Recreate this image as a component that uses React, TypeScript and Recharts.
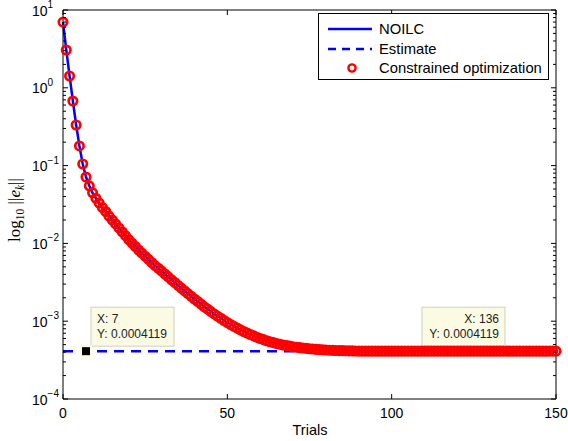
import React from "react";
import { LineChart, Line, XAxis, YAxis, ReferenceLine, ReferenceDot, Legend } from "recharts";

// ||e_k||, one value per trial 0..150
const ERROR_NORM = [
  7.0, 3.06, 1.42, 0.676, 0.333, 0.179, 0.105, 0.0714, 0.055, 0.0447,
  0.038, 0.0331, 0.0288, 0.0257, 0.0224, 0.02, 0.0178, 0.0158, 0.0141, 0.0126,
  0.0112, 0.0101, 0.00912, 0.00822, 0.0075, 0.00684, 0.00624, 0.00569, 0.00519, 0.00479,
  0.0044, 0.00404, 0.00371, 0.00341, 0.00314, 0.00289, 0.00266, 0.00245, 0.00226, 0.00209,
  0.00193, 0.00179, 0.00166, 0.00153, 0.00143, 0.00133, 0.00124, 0.00116, 0.00109, 0.00102,
  0.000962, 0.000908, 0.000859, 0.000815, 0.000774, 0.000738, 0.000705, 0.000675, 0.000647, 0.000622,
  0.0006, 0.000579, 0.000561, 0.000545, 0.00053, 0.000516, 0.000505, 0.000494, 0.000485, 0.000478,
  0.00047, 0.000463, 0.000457, 0.000452, 0.000447, 0.000443, 0.000439, 0.000435, 0.000432, 0.000429,
  0.000426, 0.000424, 0.000422, 0.00042, 0.000419, 0.000418, 0.000417, 0.000416, 0.000415, 0.000414,
  0.000413, 0.0004119, 0.0004119, 0.0004119, 0.0004119, 0.0004119, 0.0004119, 0.0004119, 0.0004119, 0.0004119,
  0.0004119, 0.0004119, 0.0004119, 0.0004119, 0.0004119, 0.0004119, 0.0004119, 0.0004119, 0.0004119, 0.0004119,
  0.0004119, 0.0004119, 0.0004119, 0.0004119, 0.0004119, 0.0004119, 0.0004119, 0.0004119, 0.0004119, 0.0004119,
  0.0004119, 0.0004119, 0.0004119, 0.0004119, 0.0004119, 0.0004119, 0.0004119, 0.0004119, 0.0004119, 0.0004119,
  0.0004119, 0.0004119, 0.0004119, 0.0004119, 0.0004119, 0.0004119, 0.0004119, 0.0004119, 0.0004119, 0.0004119,
  0.0004119, 0.0004119, 0.0004119, 0.0004119, 0.0004119, 0.0004119, 0.0004119, 0.0004119, 0.0004119, 0.0004119,
  0.0004119,
];
// constrained optimization lands on the same values as NOILC
const CONSTRAINED = ERROR_NORM;
const ESTIMATE = 0.0004119;

const X_TICKS = [0, 50, 100, 150];
const Y_MAJOR = [1e-4, 1e-3, 1e-2, 1e-1, 1, 10];
const Y_EXP = ["−4", "−3", "−2", "−1", "0", "1"];
const Y_MINOR = Y_MAJOR.slice(0, -1).flatMap((d) => [2, 3, 4, 5, 6, 7, 8, 9].map((m) => m * d));

const TIP_TRIALS = [7, 136];

const data = ERROR_NORM.map((v, i) => ({
  trial: i,
  noilc: v,
  estimate: ESTIMATE,
  constrained: CONSTRAINED[i],
}));

const PLOT = { left: 63, right: 556, top: 10, bottom: 399 };
const SANS = "'Liberation Sans', Arial, sans-serif";

function YTick(props: any) {
  const { y, payload } = props;
  const idx = Y_MAJOR.indexOf(payload.value);
  const len = idx >= 0 ? 5 : 3;
  return (
    <g>
      <line x1={PLOT.left} x2={PLOT.left + len} y1={y} y2={y} stroke="#000" />
      <line x1={PLOT.right} x2={PLOT.right - len} y1={y} y2={y} stroke="#000" />
      {idx >= 0 && (
        <text x={32} y={y + 5.5} fontSize={14} fontFamily={SANS} fill="#000">
          10
          <tspan dy={-7.5} fontSize={10}>
            {Y_EXP[idx]}
          </tspan>
        </text>
      )}
    </g>
  );
}

function XTick(props: any) {
  const { x, payload } = props;
  return (
    <g>
      <line x1={x} x2={x} y1={PLOT.bottom} y2={PLOT.bottom - 5} stroke="#000" />
      <line x1={x} x2={x} y1={PLOT.top} y2={PLOT.top + 5} stroke="#000" />
      <text x={x} y={418} textAnchor="middle" fontSize={14} fontFamily={SANS} fill="#000">
        {payload.value}
      </text>
    </g>
  );
}

function XLabel() {
  return (
    <text x={310} y={435} textAnchor="middle" fontSize={14.5} fontFamily={SANS} fill="#000">
      Trials
    </text>
  );
}

function YLabel() {
  return (
    <text
      x={20}
      y={210}
      transform="rotate(-90, 20, 210)"
      textAnchor="middle"
      fontFamily="'Liberation Serif', 'Times New Roman', serif"
      fontSize={17}
      fill="#000"
    >
      log
      <tspan dy={3.5} fontSize={11.5}>10</tspan>
      <tspan dy={-3.5}> ||</tspan>
      <tspan fontStyle="italic">e</tspan>
      <tspan dy={3.5} fontSize={11.5} fontStyle="italic">k</tspan>
      <tspan dy={-3.5}>||</tspan>
    </text>
  );
}

function DataTip(props: any) {
  const { cx, cy, trial } = props;
  const right = trial < 75;
  const bx = right ? cx + 5 : cx - 88;
  const tx = right ? bx + 6 : bx + 77;
  return (
    <g>
      <rect x={bx} y={cy - 44} width={83} height={39} fill="#fbfbe4" stroke="#cfcfc0" />
      <text x={tx} y={cy - 28} fontSize={12} fontFamily={SANS} fill="#222" textAnchor={right ? "start" : "end"}>
        {`X: ${trial}`}
      </text>
      <text x={tx} y={cy - 13} fontSize={12} fontFamily={SANS} fill="#222" textAnchor={right ? "start" : "end"}>
        {`Y: ${ESTIMATE}`}
      </text>
      <rect x={cx - 6} y={cy - 6} width={12} height={12} fill="#ffffd0" />
      <rect x={cx - 4} y={cy - 4} width={8} height={8} fill="#000" />
    </g>
  );
}

function LegendBox() {
  return (
    <svg width={231} height={67}>
      <rect x={0.5} y={0.5} width={230} height={66} fill="#fff" stroke="#000" />
      <line x1={10} x2={54} y1={16} y2={16} stroke="#0000ff" strokeWidth={2.5} />
      <text x={61} y={21} fontSize={14.8} fontFamily={SANS} fill="#000">NOILC</text>
      <line x1={10} x2={54} y1={36} y2={36} stroke="#0000ff" strokeWidth={2.5} strokeDasharray="8 6" />
      <text x={61} y={41} fontSize={14.8} fontFamily={SANS} fill="#000">Estimate</text>
      <circle cx={34} cy={55} r={3.6} fill="none" stroke="#ff0000" strokeWidth={2.4} />
      <text x={61} y={60} fontSize={14.8} fontFamily={SANS} fill="#000">Constrained optimization</text>
    </svg>
  );
}

export default function App() {
  return (
    <div style={{ position: "absolute", left: 0, top: 0, background: "#fff" }}>
      <LineChart width={568} height={441} data={data} margin={{ top: 10, right: 12, bottom: 0, left: 0 }}>
        <XAxis
          dataKey="trial"
          type="number"
          domain={[0, 150]}
          ticks={X_TICKS}
          interval={0}
          height={42}
          tickLine={false}
          axisLine={{ stroke: "#000" }}
          tick={<XTick />}
          label={<XLabel />}
        />
        <YAxis
          type="number"
          scale="log"
          domain={[1e-4, 10]}
          ticks={[...Y_MAJOR, ...Y_MINOR]}
          interval={0}
          width={63}
          tickLine={false}
          axisLine={{ stroke: "#000" }}
          tick={<YTick />}
          label={<YLabel />}
        />
        <ReferenceLine y={10} stroke="#000" />
        <ReferenceLine x={150} stroke="#000" />
        <Line dataKey="noilc" name="NOILC" stroke="#0000ff" strokeWidth={2.5} dot={false} isAnimationActive={false} />
        <Line
          dataKey="estimate"
          name="Estimate"
          stroke="#0000ff"
          strokeWidth={2.5}
          strokeDasharray="10 7"
          dot={false}
          isAnimationActive={false}
        />
        <Line
          dataKey="constrained"
          name="Constrained optimization"
          stroke="none"
          dot={{ r: 4.2, stroke: "#ff0000", strokeWidth: 2.7, fill: "none" }}
          isAnimationActive={false}
        />
        {TIP_TRIALS.map((t) => (
          <ReferenceDot
            key={t}
            x={t}
            y={ESTIMATE}
            r={4}
            shape={(p: any) => <DataTip {...p} trial={t} />}
          />
        ))}
        <Legend
          layout="vertical"
          align="center"
          verticalAlign="middle"
          content={() => <LegendBox />}
          wrapperStyle={{ left: 318, top: 13, width: 231, height: 67 }}
        />
      </LineChart>
    </div>
  );
}
